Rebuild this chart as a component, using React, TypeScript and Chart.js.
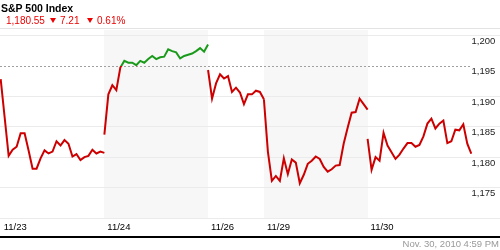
import React, { useEffect, useRef } from 'react';
import { Chart, registerables } from 'chart.js';

Chart.register(...registerables);

const TITLE = 'S&P 500 Index';
const LAST_PRICE = '1,180.55';
const CHANGE = '7.21';
const CHANGE_PCT = '0.61%';
const TIMESTAMP = 'Nov. 30, 2010 4:59 PM';

const DAY_LABELS = ['11/23', '11/24', '11/26', '11/29', '11/30'];
const DAY_START_SLOTS = [0, 26, 52, 66, 92];
const SHADED_DAYS = [1, 3];

const NOV23 = [1192.8, 1186.5, 1180.2, 1181.2, 1181.7, 1183.9, 1183.9, 1181.1, 1178.1, 1178.1, 1179.8, 1181.1, 1180.6, 1180.9, 1182.6, 1181.9, 1182.8, 1182.2, 1180.1, 1180.5, 1179.5, 1180.0, 1180.2, 1181.2, 1180.6, 1180.9, 1180.7];
const NOV24 = [1183.7, 1190.3, 1191.8, 1191.0, 1194.7, 1195.8, 1195.5, 1195.5, 1195.1, 1195.8, 1195.5, 1196.1, 1196.6, 1196.1, 1196.4, 1196.5, 1197.7, 1197.4, 1197.2, 1196.2, 1196.6, 1196.8, 1197.0, 1197.4, 1197.9, 1197.3, 1198.5];
const NOV26 = [1194.3, 1189.6, 1192.1, 1193.6, 1192.9, 1193.3, 1190.7, 1191.4, 1190.6, 1188.7, 1190.3, 1190.3, 1190.9, 1190.7, 1189.5];
const NOV29 = [1189.5, 1180.9, 1176.1, 1176.9, 1176.1, 1179.8, 1177.2, 1179.6, 1179.1, 1175.7, 1177.1, 1178.9, 1179.4, 1180.1, 1179.7, 1178.4, 1177.6, 1178.0, 1178.6, 1178.7, 1182.2, 1184.8, 1187.3, 1187.4, 1189.6, 1188.7, 1187.8];
const NOV30 = [1183.0, 1177.9, 1180.0, 1179.4, 1184.0, 1181.9, 1180.8, 1179.7, 1180.4, 1181.4, 1182.3, 1182.3, 1181.7, 1182.0, 1183.4, 1185.5, 1186.3, 1184.7, 1185.5, 1186.0, 1182.3, 1182.6, 1184.5, 1184.4, 1185.4, 1182.2, 1180.55];
const DAY_VALUES = [NOV23, NOV24, NOV26, NOV29, NOV30];

const Y_TICKS = [1170, 1175, 1180, 1185, 1190, 1195, 1200];
const HIDDEN_Y_LABELS = [1170];
const THRESHOLD = 1195;
const Y_MIN = 1170;
const Y_MAX = 1200.87;
const X_MIN = -0.17;
const X_MAX = 118.18;

const RED = '#cc0000';
const GREEN = '#1a9a1a';
const TEXT_RED = '#ee0000';
const SHADE = '#f7f7f7';
const GRID = '#ebebeb';
const FONT = '"Liberation Sans", Arial, sans-serif';

const fmt = (v: number) => v.toLocaleString('en-US');

const lineColor = (ctx: any) => {
  const chart = ctx.chart;
  const { chartArea, scales } = chart;
  if (!chartArea || !scales || !scales.y) return RED;
  const yT = scales.y.getPixelForValue(THRESHOLD);
  const h = chartArea.bottom - chartArea.top;
  const t = Math.min(1, Math.max(0, (yT - chartArea.top) / h));
  const g = chart.ctx.createLinearGradient(0, chartArea.top, 0, chartArea.bottom);
  g.addColorStop(0, GREEN);
  g.addColorStop(t, GREEN);
  g.addColorStop(t, RED);
  g.addColorStop(1, RED);
  return g;
};

const decorPlugin = {
  id: 'decor',
  beforeDraw(chart: any) {
    const { ctx, chartArea, scales } = chart;
    const x = scales.x;
    ctx.save();
    ctx.fillStyle = SHADE;
    SHADED_DAYS.forEach((d) => {
      const s0 = DAY_START_SLOTS[d];
      const s1 = s0 + DAY_VALUES[d].length - 1;
      const x0 = Math.round(x.getPixelForValue(s0));
      const x1 = Math.round(x.getPixelForValue(s1));
      ctx.fillRect(x0, chartArea.top, x1 - x0, chartArea.bottom - chartArea.top);
    });
    ctx.fillStyle = '#e3e3e3';
    ctx.fillRect(0, Math.round(chartArea.top) - 2, chart.width, 1);
    ctx.restore();
  },
  beforeDatasetsDraw(chart: any) {
    const { ctx, chartArea, scales } = chart;
    const y = Math.round(scales.y.getPixelForValue(THRESHOLD)) + 0.5;
    ctx.save();
    ctx.strokeStyle = '#a0a0a0';
    ctx.lineWidth = 1;
    ctx.setLineDash([2, 2]);
    ctx.beginPath();
    ctx.moveTo(chartArea.left, y);
    ctx.lineTo(chartArea.right, y);
    ctx.stroke();
    ctx.restore();
  },
  afterDraw(chart: any) {
    const { ctx, scales } = chart;
    ctx.save();
    ctx.fillStyle = '#000';
    ctx.fillRect(0, Math.round(scales.x.bottom) - 1, chart.width, 2);
    ctx.restore();
  },
};

function Text({ left, right, baseline, size, bold, color, children }: any) {
  const top = baseline - 0.8465 * size;
  const style: any = {
    position: 'absolute',
    top,
    fontFamily: FONT,
    fontSize: size,
    lineHeight: `${size}px`,
    fontWeight: bold ? 'bold' : 'normal',
    color,
    whiteSpace: 'nowrap',
  };
  if (left !== undefined) style.left = left;
  if (right !== undefined) style.right = right;
  return <span style={style}>{children}</span>;
}

function DownTri({ left, top }: any) {
  return (
    <span
      style={{
        position: 'absolute',
        left,
        top,
        width: 0,
        height: 0,
        borderLeft: '3.5px solid transparent',
        borderRight: '3.5px solid transparent',
        borderTop: `5px solid ${TEXT_RED}`,
      }}
    />
  );
}

export default function App() {
  const ref = useRef<HTMLCanvasElement | null>(null);

  useEffect(() => {
    if (!ref.current) return;
    const datasets = DAY_VALUES.map((vals, d) => ({
      label: DAY_LABELS[d],
      data: vals.map((v, i) => ({ x: DAY_START_SLOTS[d] + i, y: v })),
      borderColor: lineColor,
      borderWidth: 2,
      pointRadius: 0,
      tension: 0,
      fill: false,
    }));
    const chart = new Chart(ref.current, {
      type: 'line',
      data: { datasets },
      plugins: [decorPlugin],
      options: {
        animation: false,
        responsive: false,
        maintainAspectRatio: false,
        layout: { padding: { top: 30, bottom: 13, left: 0, right: 0 } },
        plugins: { legend: { display: false }, tooltip: { enabled: false } },
        scales: {
          x: {
            type: 'linear',
            min: X_MIN,
            max: X_MAX,
            grid: { display: false },
            border: { display: false },
            afterBuildTicks: (s: any) => {
              s.ticks = DAY_START_SLOTS.map((v) => ({ value: v }));
            },
            afterFit: (s: any) => {
              s.height = 19;
            },
            ticks: {
              autoSkip: false,
              maxRotation: 0,
              minRotation: 0,
              align: 'start',
              labelOffset: 3,
              padding: -4,
              color: '#000',
              font: { family: FONT, size: 9.5 },
              callback: (v: any) => {
                const i = DAY_START_SLOTS.indexOf(Number(v));
                return i >= 0 ? DAY_LABELS[i] : '';
              },
            },
          },
          y: {
            type: 'linear',
            position: 'right',
            min: Y_MIN,
            max: Y_MAX,
            border: { display: false },
            afterBuildTicks: (s: any) => {
              s.ticks = Y_TICKS.map((v) => ({ value: v }));
            },
            afterFit: (s: any) => {
              s.width = 28;
            },
            grid: {
              color: (c: any) => (c.tick && c.tick.value === THRESHOLD ? 'rgba(0,0,0,0)' : GRID),
              lineWidth: 1,
              tickLength: 28,
              drawTicks: true,
            },
            ticks: {
              crossAlign: 'near',
              padding: -28.5,
              labelOffset: 6,
              color: '#222',
              font: { family: FONT, size: 9.5 },
              callback: (v: any) => (HIDDEN_Y_LABELS.includes(Number(v)) ? '' : fmt(Number(v))),
            },
          },
        },
      } as any,
    });
    return () => chart.destroy();
  }, []);

  return (
    <div style={{ position: 'absolute', left: 0, top: 0, width: 500, height: 250, background: '#fff', overflow: 'hidden' }}>
      <canvas ref={ref} width={500} height={250} style={{ display: 'block', width: 500, height: 250 }} />
      <Text left={1} baseline={12} size={10.5} bold color="#000">{TITLE}</Text>
      <Text left={6} baseline={24} size={10} color={TEXT_RED}>{LAST_PRICE}</Text>
      <DownTri left={50} top={18} />
      <Text left={60} baseline={24} size={10} color={TEXT_RED}>{CHANGE}</Text>
      <DownTri left={87} top={18} />
      <Text left={97} baseline={24} size={10} color={TEXT_RED}>{CHANGE_PCT}</Text>
      <Text right={1} baseline={247} size={9.5} color="#999">{TIMESTAMP}</Text>
    </div>
  );
}
